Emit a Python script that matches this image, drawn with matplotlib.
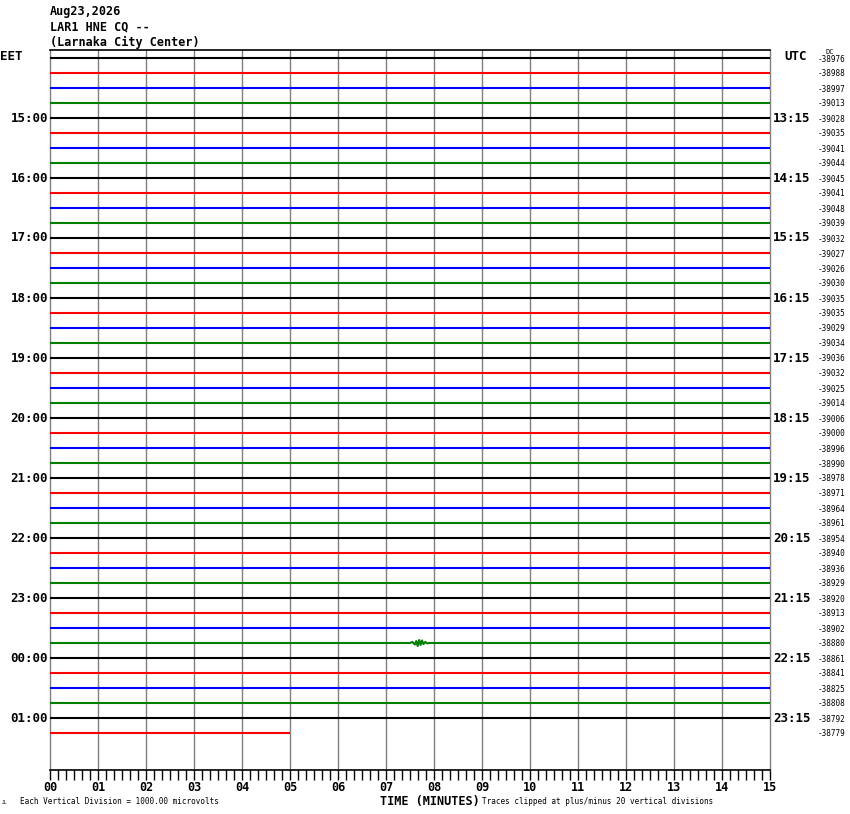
import matplotlib
matplotlib.use("Agg")
import matplotlib.pyplot as plt
from matplotlib.ticker import MultipleLocator, FuncFormatter

W, H = 850, 814
MONO = ["DejaVu Sans Mono"]

# ---- data ----
TITLE_LINES = ["Aug23,2026", "LAR1 HNE CQ --", "(Larnaka City Center)"]
DC_VALUES = [-38976, -38988, -38997, -39013, -39028, -39035, -39041, -39044,
             -39045, -39041, -39048, -39039, -39032, -39027, -39026, -39030,
             -39035, -39035, -39029, -39034, -39036, -39032, -39025, -39014,
             -39006, -39000, -38996, -38990, -38978, -38971, -38964, -38961,
             -38954, -38940, -38936, -38929, -38920, -38913, -38902, -38880,
             -38861, -38841, -38825, -38808, -38792, -38779]
LOCAL_HOURS = ["15:00", "16:00", "17:00", "18:00", "19:00", "20:00",
               "21:00", "22:00", "23:00", "00:00", "01:00"]
UTC_HOURS = ["13:15", "14:15", "15:15", "16:15", "17:15", "18:15",
             "19:15", "20:15", "21:15", "22:15", "23:15"]
TRACE_COLORS = ["black", "red", "blue", "#007f00"]
LAST_TRACE_END = 5.0          # minutes of data in the last line

# small event on the 23:45 line (row 39)
EVENT_ROW = 39
EVENT_T = [7.50, 7.55, 7.60, 7.63, 7.66, 7.69, 7.72, 7.75, 7.78, 7.82, 7.86, 7.90]
EVENT_A = [0.0, 0.07, -0.10, 0.13, -0.20, 0.20, -0.13, 0.17, -0.07, 0.07, -0.03, 0.0]

n_rows = len(DC_VALUES)


def fx(px):
    return px / W


def fy(py):
    return 1 - py / H


fig = plt.figure(figsize=(W / 100, H / 100), dpi=100)
ax = fig.add_axes([fx(50), fy(770), fx(770) - fx(50), fy(50) - fy(770)])

# traces
for i in range(n_rows):
    col = TRACE_COLORS[i % 4]
    if i == EVENT_ROW:
        xs = [0.0] + EVENT_T + [15.0]
        ys = [i] + [i - a for a in EVENT_A] + [i]
    elif i == n_rows - 1:
        xs, ys = [0.0, LAST_TRACE_END], [i, i]
    else:
        xs, ys = [0.0, 15.0], [i, i]
    ax.plot(xs, ys, color=col, lw=1.5, solid_capstyle="butt", zorder=3)

ax.set_xlim(0, 15)
ax.set_ylim((770 - 58) / 15, (50 - 58) / 15)

for m in range(1, 15):
    ax.axvline(m, color="#808080", lw=1.0, zorder=1)

for s in ["left", "right"]:
    ax.spines[s].set_color("#808080")
    ax.spines[s].set_linewidth(1.0)
for s in ["top", "bottom"]:
    ax.spines[s].set_color("black")
    ax.spines[s].set_linewidth(1.2)

ax.set_yticks([])
ax.xaxis.set_major_locator(MultipleLocator(1))
ax.xaxis.set_minor_locator(MultipleLocator(1 / 6))
ax.xaxis.set_major_formatter(FuncFormatter(lambda v, p: f"{int(round(v)):02d}"))
ax.tick_params(axis="x", which="both", direction="out", length=7, width=1,
               color="black", pad=1)
for lab in ax.get_xticklabels():
    lab.set_fontfamily(MONO)
    lab.set_fontweight("bold")
    lab.set_fontsize(8.5)

# header
for k, line in enumerate(TITLE_LINES):
    fig.text(fx(50), fy(12 + 15 * k), line, fontsize=8.5, fontweight="bold",
             family=MONO, va="center", ha="left")

# hour labels
fig.text(fx(0), fy(57), "EET", fontsize=9, fontweight="bold", family=MONO,
         va="center", ha="left")
fig.text(fx(784), fy(57), "UTC", fontsize=9, fontweight="bold", family=MONO,
         va="center", ha="left")
for k, (loc, utc) in enumerate(zip(LOCAL_HOURS, UTC_HOURS)):
    row = 4 + 4 * k
    yy = 58 + 15 * row
    fig.text(fx(48), fy(yy), loc, fontsize=9, fontweight="bold", family=MONO,
             va="center", ha="right")
    fig.text(fx(773), fy(yy), utc, fontsize=9, fontweight="bold", family=MONO,
             va="center", ha="left")

# DC values
fig.text(fx(830), fy(52), "DC", fontsize=5, family=MONO, va="center", ha="center")
for i, v in enumerate(DC_VALUES):
    fig.text(fx(818), fy(59 + 15 * i), f"{v}", fontsize=5.5, family=MONO,
             va="center", ha="left")

# footer
fig.text(fx(430), fy(801), "TIME (MINUTES)", fontsize=8.5, fontweight="bold",
         family=MONO, va="center", ha="center")
fig.text(fx(20), fy(801), "Each Vertical Division = 1000.00 microvolts",
         fontsize=5.5, family=MONO, va="center", ha="left")
fig.text(fx(482), fy(801), "Traces clipped at plus/minus 20 vertical divisions",
         fontsize=5.5, family=MONO, va="center", ha="left")
fig.text(fx(2), fy(802), "JL", fontsize=3.5, family=MONO, va="center", ha="left")

fig.savefig("out.png", dpi=100)
